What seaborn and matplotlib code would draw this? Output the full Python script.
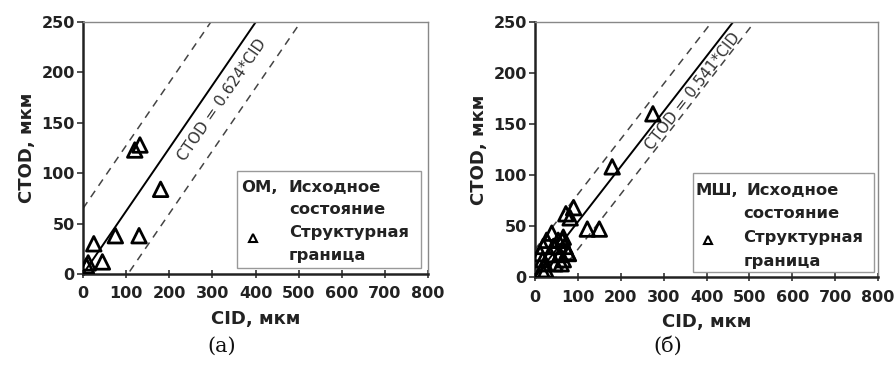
import numpy as np
import pandas as pd
import matplotlib
matplotlib.use("Agg")
import matplotlib.pyplot as plt
import seaborn as sns
from matplotlib.patches import Rectangle

sns.set_theme(style="white")
plt.rcParams['font.family'] = ['DejaVu Sans']

# ---- data ----
om_cid = [8, 12, 25, 45, 75, 130, 120, 132, 180]
om_ctod = [8, 11, 30, 12, 38, 38, 123, 128, 84]
om_slope = 0.624
om_band = 65

msh_cid = [275, 180, 90, 72, 82, 122, 150,
           39, 27, 54, 66, 19, 43, 70, 12, 35, 58, 78, 23, 47, 16, 18, 25, 64, 61, 76, 66]
msh_ctod = [160, 108, 68, 62, 58, 47, 47,
            43, 36, 36, 39, 30, 30, 30, 23, 22, 22, 23, 13, 13, 7, 17, 7, 36, 13, 24, 17]
msh_slope = 0.541
msh_band = 27

x_ticks = [0, 100, 200, 300, 400, 500, 600, 700, 800]
y_ticks = [0, 50, 100, 150, 200, 250]

fig = plt.figure(figsize=(8.96, 3.66), dpi=100)
W, H = 896, 366
ax1 = fig.add_axes([83 / W, 1 - 274 / H, 345 / W, 252 / H])
ax2 = fig.add_axes([535 / W, 1 - 277 / H, 343 / W, 255 / H])


def panel(ax, cid, ctod, slope, band, eq_text, eq_pos, eq_rot, tag, leg_box, pos):
    xs = np.array([0.0, 800.0])
    sns.lineplot(x=xs, y=slope * xs, ax=ax, color='black', lw=1.4)
    sns.lineplot(x=xs, y=slope * xs + band, ax=ax, color='#444444', lw=1.1,
                 linestyle=(0, (5, 4)))
    sns.lineplot(x=xs, y=slope * xs - band, ax=ax, color='#444444', lw=1.1,
                 linestyle=(0, (5, 4)))
    df = pd.DataFrame({'CID': cid, 'CTOD': ctod})
    sns.scatterplot(data=df, x='CID', y='CTOD', ax=ax, marker='^', s=110,
                    facecolor='none', edgecolor='black', linewidth=2.0, zorder=5)
    ax.set_xlim(0, 800)
    ax.set_ylim(0, 250)
    ax.set_xticks(x_ticks)
    ax.set_yticks(y_ticks)
    ax.tick_params(axis='both', labelsize=11.5, width=1.2, color='#333333',
                   bottom=True, left=True)
    ax.tick_params(axis='x', direction='inout', length=6, pad=6)
    ax.tick_params(axis='y', direction='out', length=4, pad=2)
    for lab in ax.get_xticklabels() + ax.get_yticklabels():
        lab.set_fontweight('bold')
        lab.set_color('#222222')
    for s in ['left', 'bottom']:
        ax.spines[s].set_color('#222222')
        ax.spines[s].set_linewidth(1.8)
    for s in ['top', 'right']:
        ax.spines[s].set_color('#888888')
        ax.spines[s].set_linewidth(1.0)
    ax.set_xlabel('CID, мкм', fontsize=13, fontweight='bold', color='#222222', labelpad=6)
    ax.set_ylabel('CTOD, мкм', fontsize=13, fontweight='bold', color='#222222', labelpad=4)
    ax.text(eq_pos[0], eq_pos[1], eq_text, rotation=eq_rot, fontsize=11,
            ha='center', va='center', color='#333333', rotation_mode='anchor')
    x0, y0, x1, y1 = leg_box
    ax.add_patch(Rectangle((x0, y0), x1 - x0, y1 - y0, transform=ax.transAxes,
                           facecolor='white', edgecolor='#999999', lw=1.0, zorder=6))
    kw = dict(transform=ax.transAxes, fontsize=11.8, fontweight='bold',
              color='#222222', va='center', ha='left', zorder=7)
    ax.text(pos['tag'][0], pos['tag'][1], tag, **kw)
    ax.text(pos['l1'][0], pos['l1'][1], 'Исходное', **kw)
    ax.text(pos['l2'][0], pos['l2'][1], 'состояние', **kw)
    ax.text(pos['l3'][0], pos['l3'][1], 'Структурная', **kw)
    ax.text(pos['l4'][0], pos['l4'][1], 'граница', **kw)
    ax.plot([pos['m'][0]], [pos['m'][1]], transform=ax.transAxes, marker='^',
            ms=6, mfc='none', mec='black', mew=1.5, zorder=7, ls='none')


panel(ax1, om_cid, om_ctod, om_slope, om_band, 'CTOD = 0.624*CID', (322, 173), 55.5, 'ОМ,',
      (0.446, 0.024, 0.98, 0.409),
      {'tag': (0.457, 0.345), 'l1': (0.597, 0.345), 'l2': (0.597, 0.254),
       'm': (0.493, 0.143), 'l3': (0.597, 0.163), 'l4': (0.597, 0.075)})
panel(ax2, msh_cid, msh_ctod, msh_slope, msh_band, 'CTOD = 0.541*CID', (368, 182), 52, 'МШ,',
      (0.46, 0.02, 0.987, 0.407),
      {'tag': (0.469, 0.341), 'l1': (0.618, 0.341), 'l2': (0.608, 0.25),
       'm': (0.503, 0.145), 'l3': (0.608, 0.156), 'l4': (0.608, 0.06)})

fig.text(222 / W, 1 - 346 / H, '(a)', fontsize=15, family='DejaVu Serif',
         ha='center', va='center', color='#111111')
fig.text(668 / W, 1 - 346 / H, '(б)', fontsize=15, family='DejaVu Serif',
         ha='center', va='center', color='#111111')

fig.savefig('out.png', dpi=100)
